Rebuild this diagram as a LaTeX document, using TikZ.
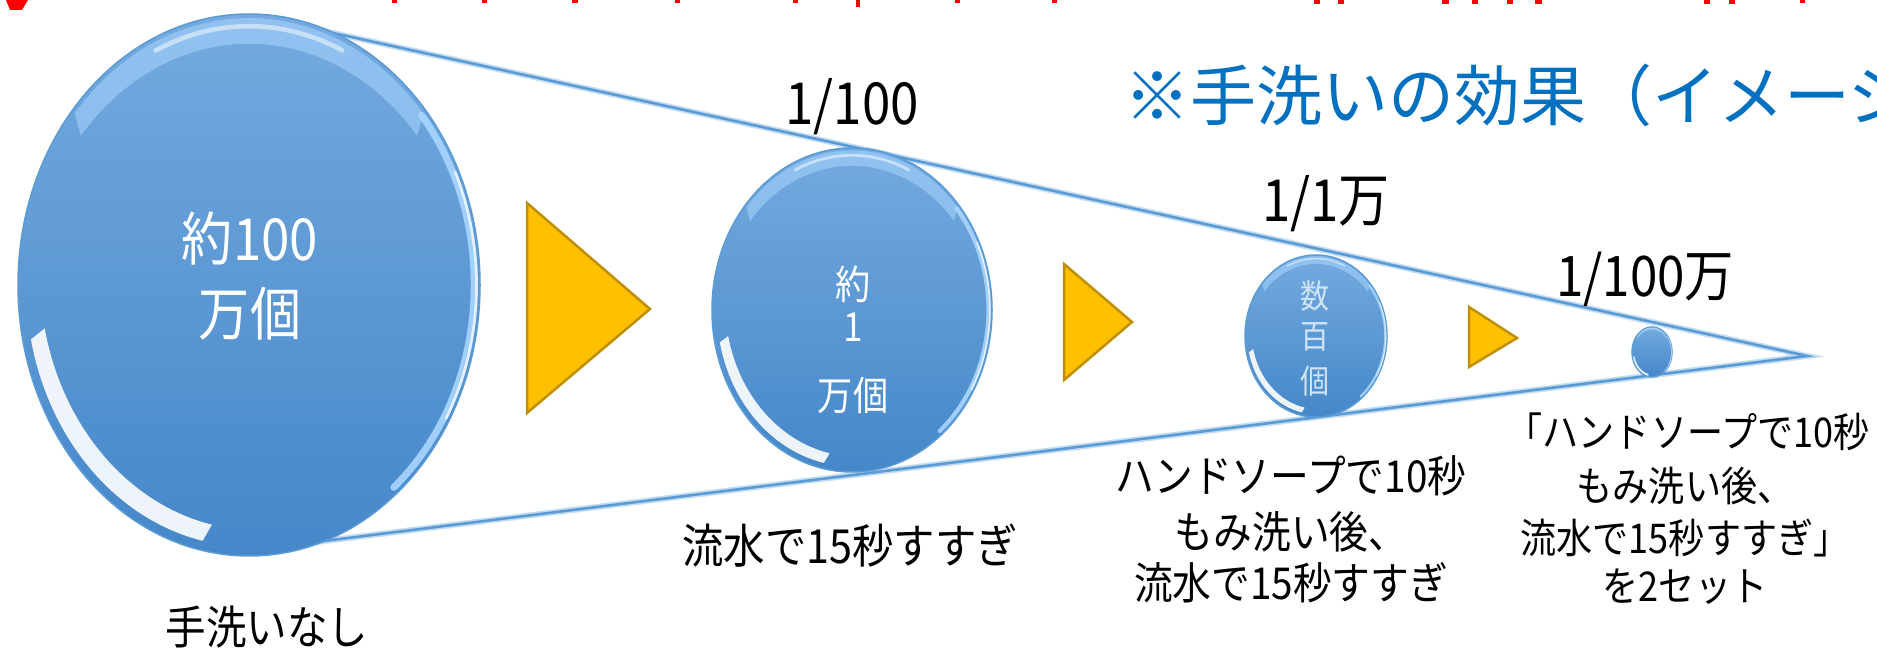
\documentclass[tikz,border=0pt]{standalone}
\usepackage{fontspec}
\setmainfont{Noto Sans CJK JP}
\newfontfamily\jpn{Noto Sans CJK JP}
\newfontfamily\jpnn[FakeStretch=0.88]{Noto Sans CJK JP}
\usetikzlibrary{shapes.geometric}
\definecolor{bubtop}{HTML}{74AADF}
\definecolor{bubbot}{HTML}{4587C9}
\definecolor{rim}{HTML}{5B9BD5}
\definecolor{hlblue}{HTML}{A9D6FF}
\definecolor{conecol}{HTML}{5B9BD5}
\definecolor{coneglow}{HTML}{C5DDF3}
\definecolor{tri}{HTML}{FFC000}
\definecolor{tridark}{HTML}{BF8F00}
\definecolor{titleblue}{HTML}{0070C0}
\definecolor{headred}{HTML}{FF0000}
\definecolor{faint}{HTML}{CFE3F5}
\tikzset{
  bubble/.style={ellipse, inner sep=0pt, top color=bubtop, bottom color=bubbot, draw=rim, line width=1.5pt},
  arrowtri/.style={fill=tri, draw=tridark, line width=2.5pt, line join=miter},
  coneline/.style={draw=conecol, line width=2.6pt},
  coneglowline/.style={draw=coneglow, line width=6pt},
  redbit/.style={fill=headred, draw=none},
  lbl/.style={inner sep=0pt, anchor=base, text=black},
  intext/.style={inner sep=0pt, anchor=base, text=white},
}
\newcommand\bubbleat[5]{%
  \node[bubble, minimum width=2*#4, minimum height=2*#5] (#1) at (#2,#3) {};
  \begin{scope}[shift={(#2,#3)}]
    % soft light band along the top
    \fill[color=hlblue, opacity=0.55]
      (40:0.985*#4 and 0.985*#5) arc[start angle=40, end angle=140, x radius=0.985*#4, y radius=0.985*#5]
      -- ([shift={(0,-0.06*#5)}]140:0.95*#4 and 0.95*#5)
      arc[start angle=140, end angle=40, x radius=0.95*#4, y radius=0.95*#5] -- cycle;
    \draw[color=white, opacity=0.5, line width=0.02*#4, line cap=round]
      (65:0.955*#4 and 0.955*#5) arc[start angle=65, end angle=115, x radius=0.955*#4, y radius=0.955*#5];
    % bright crescent on the lower left
    \fill[color=white, opacity=0.9]
      (192:0.965*#4 and 0.965*#5) arc[start angle=192, end angle=258, x radius=0.965*#4, y radius=0.965*#5]
      -- ([shift={(0.035*#4,0.035*#5)}]258:0.94*#4 and 0.94*#5)
      arc[start angle=258, end angle=192, x radius=0.94*#4, y radius=0.94*#5] -- cycle;
    % light rim on the right
    \draw[color=hlblue, opacity=0.9, line width=0.03*#4, line cap=round]
      (-50:0.975*#4 and 0.975*#5) arc[start angle=-50, end angle=40, x radius=0.975*#4, y radius=0.975*#5];
    \draw[color=white, opacity=0.7, line width=0.012*#4, line cap=round]
      (-30:0.985*#4 and 0.985*#5) arc[start angle=-30, end angle=25, x radius=0.985*#4, y radius=0.985*#5];
  \end{scope}
}
\begin{document}
\begin{tikzpicture}[x=1pt, y=1pt]
\fill[white] (0,0) rectangle (1877,648);
\useasboundingbox (0,0) rectangle (1877,648);

% cut-off red heading (only its lowest strokes are visible)
\fill[redbit] (6,648) -- (28,648) -- (22,638) -- (10,638) -- cycle;
\fill[redbit] (392,648) rectangle (397,645);
\fill[redbit] (482,648) rectangle (487,645);
\fill[redbit] (572,648) rectangle (578,645);
\fill[redbit] (675,648) rectangle (680,645);
\fill[redbit] (793,648) rectangle (798,645);
\fill[redbit] (856,648) rectangle (860,641);
\fill[redbit] (955,648) rectangle (960,645);
\fill[redbit] (1052,648) rectangle (1057,645);
\fill[redbit] (1314,648) rectangle (1320,644);
\fill[redbit] (1338,648) rectangle (1344,644);
\fill[redbit] (1442,648) rectangle (1449,644);
\fill[redbit] (1472,648) rectangle (1478,644);
\fill[redbit] (1507,648) rectangle (1513,644);
\fill[redbit] (1535,648) rectangle (1542,644);
\fill[redbit] (1704,648) rectangle (1710,644);
\fill[redbit] (1729,648) rectangle (1735,644);
\fill[redbit] (1800,648) rectangle (1805,645);

% cone outline
\coordinate (apex) at (1807,292);
\coordinate (ustart) at (260,631);
\coordinate (lstart) at (260,99);
\draw[coneglowline] (ustart) -- (apex) -- (lstart);
\draw[coneline] (ustart) -- (apex) -- (lstart);

% arrows
\draw[arrowtri] (527,445) -- (650,339) -- (527,235) -- cycle;
\draw[arrowtri] (1064,384) -- (1132,326) -- (1064,268) -- cycle;
\draw[arrowtri] (1469,341) -- (1517,310) -- (1469,281) -- cycle;

% bubbles
\bubbleat{c1}{249}{363}{231}{271}
\bubbleat{c2}{852}{338}{140}{162}
\bubbleat{c3}{1316}{312}{71}{81}
\bubbleat{c4}{1652}{296}{20}{25}

% bubble texts
\node[intext, font=\jpnn\fontsize{58}{58}\selectfont] (c1a) at (250,387) {約100};
\node[intext, font=\jpnn\fontsize{58}{58}\selectfont] (c1b) at (250,312) {万個};
\node[intext, font=\jpnn\fontsize{40}{40}\selectfont] (c2a) at (853,348) {約};
\node[intext, font=\jpnn\fontsize{40}{40}\selectfont] (c2b) at (853,306) {1};
\node[intext, font=\jpnn\fontsize{40}{40}\selectfont] (c2c) at (853,237) {万個};
\node[intext, text=faint, font=\jpnn\fontsize{33}{33}\selectfont] (c3a) at (1315,339) {数};
\node[intext, text=faint, font=\jpnn\fontsize{33}{33}\selectfont] (c3b) at (1315,299) {百};
\node[intext, text=faint, font=\jpnn\fontsize{33}{33}\selectfont] (c3c) at (1315,254) {個};

% ratios
\node[lbl, font=\jpnn\fontsize{58}{58}\selectfont] (r1) at (852,523) {1/100};
\node[lbl, font=\jpnn\fontsize{58}{58}\selectfont] (r2) at (1326,426) {1/1万};
\node[lbl, font=\jpnn\fontsize{56}{56}\selectfont] (r3) at (1645,351) {1/100万};

% title (cut off at the right edge, as in the reference)
\node[inner sep=0pt, anchor=base west, text=titleblue, font=\jpn\fontsize{66}{66}\selectfont] (title) at (1124,527) {※手洗いの効果（イメージ）};

% captions
\node[lbl, font=\jpnn\fontsize{46}{46}\selectfont] (cap1) at (267,4) {手洗いなし};
\node[lbl, font=\jpnn\fontsize{47}{47}\selectfont] (cap2) at (850,84) {流水で15秒すすぎ};
\node[lbl, font=\jpnn\fontsize{44}{44}\selectfont] (cap3a) at (1291,155) {ハンドソープで10秒};
\node[lbl, font=\jpnn\fontsize{44}{44}\selectfont] (cap3b) at (1291,99) {もみ洗い後、};
\node[lbl, font=\jpnn\fontsize{44}{44}\selectfont] (cap3c) at (1291,48) {流水で15秒すすぎ};
\node[lbl, font=\jpnn\fontsize{41}{41}\selectfont] (cap4a) at (1688,200) {「ハンドソープで10秒};
\node[lbl, font=\jpnn\fontsize{41}{41}\selectfont] (cap4b) at (1685,146) {もみ洗い後、};
\node[lbl, font=\jpnn\fontsize{41}{41}\selectfont] (cap4c) at (1685,94) {流水で15秒すすぎ」};
\node[lbl, font=\jpnn\fontsize{41}{41}\selectfont] (cap4d) at (1685,46) {を2セット};
\end{tikzpicture}
\end{document}
